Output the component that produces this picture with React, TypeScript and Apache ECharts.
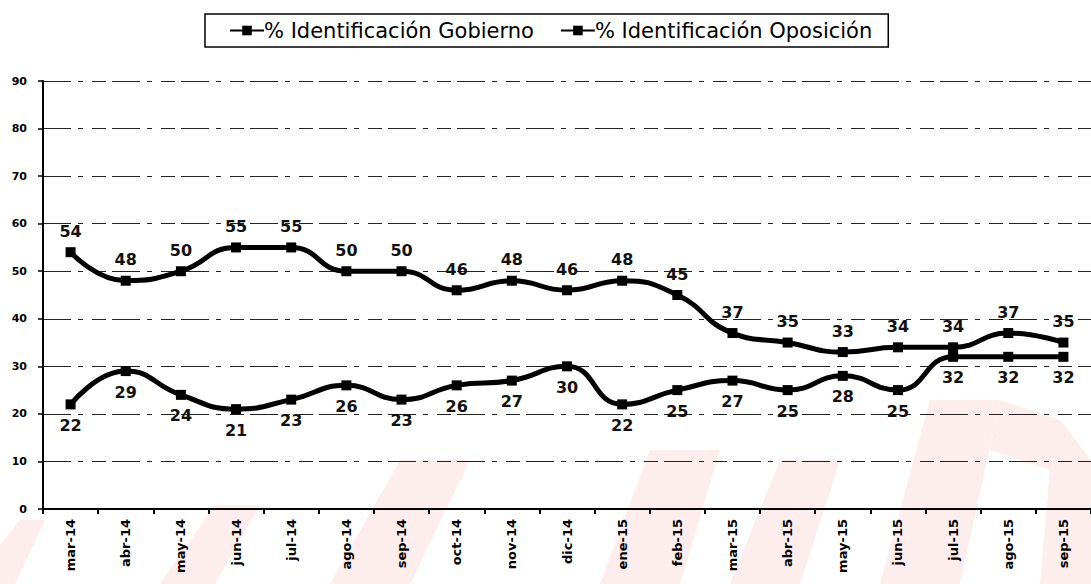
import React, { useEffect, useRef } from "react";
import * as echarts from "echarts";

const categories = [
  "mar-14", "abr-14", "may-14", "jun-14", "jul-14", "ago-14", "sep-14", "oct-14", "nov-14", "dic-14",
  "ene-15", "feb-15", "mar-15", "abr-15", "may-15", "jun-15", "jul-15", "ago-15", "sep-15",
];
const gobierno = [54, 48, 50, 55, 55, 50, 50, 46, 48, 46, 48, 45, 37, 35, 33, 34, 34, 37, 35];
const oposicion = [22, 29, 24, 21, 23, 26, 23, 26, 27, 30, 22, 25, 27, 25, 28, 25, 32, 32, 32];
const yTicks = [0, 10, 20, 30, 40, 50, 60, 70, 80, 90];
const seriesNames = ["% Identificación Gobierno", "% Identificación Oposición"];

export default function App() {
  const ref = useRef<HTMLDivElement>(null);
  useEffect(() => {
    if (!ref.current) return;
    const chart = echarts.init(ref.current, undefined, { renderer: "svg" });
    const labelStyle = {
      show: true,
      fontFamily: "DejaVu Sans",
      fontWeight: "bold" as const,
      fontSize: 16,
      color: "#111",
    };
    const wm = "#fdeded";
    chart.setOption({
      animation: false,
      backgroundColor: "#fff",
      graphic: [
        { type: "polygon", z: 0, silent: true, shape: { points: [[0, 545], [20, 520], [45, 520], [15, 584], [0, 584]] }, style: { fill: wm } },
        { type: "polygon", z: 0, silent: true, shape: { points: [[160, 584], [215, 505], [260, 505], [215, 584]] }, style: { fill: wm } },
        { type: "polygon", z: 0, silent: true, shape: { points: [[330, 584], [400, 460], [470, 460], [410, 584]] }, style: { fill: wm } },
        { type: "polygon", z: 0, silent: true, shape: { points: [[600, 584], [650, 450], [720, 450], [680, 584]] }, style: { fill: wm } },
        { type: "polygon", z: 0, silent: true, shape: { points: [[730, 584], [780, 460], [840, 460], [800, 584]] }, style: { fill: wm } },
        { type: "polygon", z: 0, silent: true, shape: { points: [[880, 584], [930, 400], [1000, 400], [960, 584]] }, style: { fill: wm } },
        { type: "polygon", z: 0, silent: true, shape: { points: [[1000, 400], [1060, 420], [1091, 460], [1091, 584], [1040, 584], [1050, 470], [990, 450]] }, style: { fill: wm } },
      ],
      legend: {
        data: seriesNames,
        left: 205,
        top: 14,
        z: 5,
        padding: [6, 16, 6, 24],
        itemGap: 26,
        itemWidth: 34,
        itemHeight: 12,
        borderColor: "#000",
        borderWidth: 1.5,
        borderRadius: 0,
        textStyle: { fontFamily: "DejaVu Sans", fontSize: 21, color: "#000", padding: [0, 0, 0, -5] },
      },
      grid: { left: 43, top: 81, width: 1053, height: 428, containLabel: false },
      xAxis: {
        type: "category",
        data: categories,
        boundaryGap: true,
        z: 5,
        axisLine: { lineStyle: { color: "#000", width: 2 } },
        axisTick: { show: true, length: 5, lineStyle: { color: "#000", width: 2 } },
        axisLabel: {
          rotate: 90,
          fontFamily: "DejaVu Sans",
          fontWeight: "bold",
          fontSize: 13,
          color: "#000",
          margin: 10,
        },
      },
      yAxis: {
        type: "value",
        min: yTicks[0],
        max: yTicks[yTicks.length - 1],
        interval: 10,
        z: 5,
        axisLine: { show: true, lineStyle: { color: "#000", width: 2 } },
        axisTick: { show: true, length: 5, lineStyle: { color: "#000", width: 1.5 } },
        axisLabel: {
          fontFamily: "DejaVu Sans",
          fontWeight: "bold",
          fontSize: 11,
          color: "#000",
          margin: 16,
        },
        splitLine: {
          show: true,
          lineStyle: { color: "#222", width: 1, type: [28, 7, 5, 9, 14, 6] },
        },
      },
      series: [
        {
          name: seriesNames[0],
          type: "line",
          z: 6,
          smooth: 0.5,
          data: gobierno,
          symbol: "rect",
          symbolSize: 10,
          itemStyle: { color: "#000" },
          lineStyle: { color: "#000", width: 5 },
          label: { ...labelStyle, position: "top", distance: 8 },
        },
        {
          name: seriesNames[1],
          type: "line",
          z: 6,
          smooth: 0.5,
          data: oposicion,
          symbol: "rect",
          symbolSize: 10,
          itemStyle: { color: "#000" },
          lineStyle: { color: "#000", width: 5 },
          label: { ...labelStyle, position: "bottom", distance: 8 },
        },
      ],
    });
    return () => chart.dispose();
  }, []);
  return (
    <div
      ref={ref}
      style={{ position: "absolute", left: 0, top: 0, width: 1091, height: 584 }}
    />
  );
}
